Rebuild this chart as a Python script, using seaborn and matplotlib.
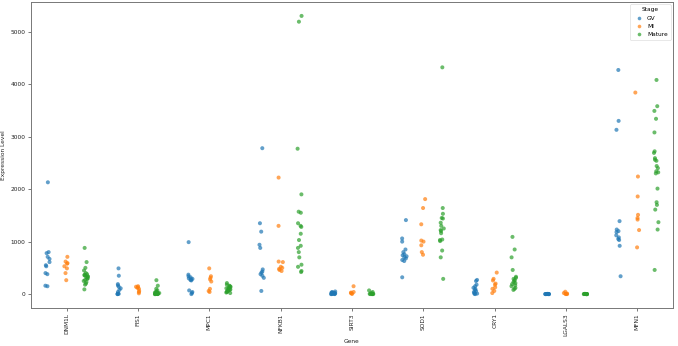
import numpy as np
import pandas as pd
import matplotlib
matplotlib.use("Agg")
import matplotlib.pyplot as plt
import seaborn as sns

genes = ["DNM1L", "FIS1", "MPC1", "NFKB1", "SIRT3", "SOD1", "CRY1", "LGALS3", "MFN1"]
stages = ["GV", "MI", "Mature"]

gv = {
    "DNM1L": [2130, 800, 780, 710, 670, 610, 550, 530, 400, 380, 160, 150],
    "FIS1": [490, 350, 190, 165, 140, 110, 80, 40, 10, 5, 0, 0],
    "MPC1": [990, 370, 340, 320, 300, 290, 280, 270, 260, 70, 40, 20, 0],
    "NFKB1": [2780, 1350, 1190, 940, 880, 470, 430, 410, 380, 350, 310, 60],
    "SIRT3": [50, 40, 30, 25, 20, 15, 10, 10, 5, 5, 0, 0, 0],
    "SOD1": [1410, 1060, 1000, 850, 800, 760, 740, 720, 700, 680, 650, 630, 320],
    "CRY1": [270, 250, 180, 150, 120, 100, 80, 60, 40, 20, 10, 5, 0],
    "LGALS3": [5, 3, 2, 1, 0, 0, 0, 0, 0, 0],
    "MFN1": [4270, 3300, 3130, 1390, 1230, 1200, 1180, 1120, 1080, 1050, 1030, 920, 340],
}
mi = {
    "DNM1L": [710, 620, 590, 580, 530, 490, 400, 265],
    "FIS1": [150, 140, 130, 120, 100, 60, 40, 15],
    "MPC1": [490, 340, 310, 280, 240, 100, 60, 40],
    "NFKB1": [2220, 1300, 620, 610, 520, 500, 480, 460, 440],
    "SIRT3": [150, 40, 30, 20, 10, 5],
    "SOD1": [1810, 1640, 1330, 1020, 1000, 930, 800, 750],
    "CRY1": [410, 290, 260, 200, 180, 130, 100, 60, 20],
    "LGALS3": [45, 20, 10, 5, 0, 0],
    "MFN1": [3840, 2240, 1860, 1510, 1450, 1420, 1220, 890],
}
mature = {
    "DNM1L": [880, 610, 500, 450, 400, 380, 370, 360, 350, 340, 330, 320, 300, 290,
              270, 250, 230, 200, 180, 90],
    "FIS1": [265, 160, 100, 70, 50, 40, 30, 25, 20, 15, 10, 8, 5, 3, 0, 0, 0, 0],
    "MPC1": [210, 180, 160, 150, 140, 130, 120, 110, 100, 90, 80, 70, 60, 50, 40, 30, 20],
    "NFKB1": [5300, 5190, 2770, 1900, 1570, 1550, 1350, 1300, 1280, 1150, 1030, 920,
              880, 800, 700, 560, 520, 440, 420],
    "SIRT3": [70, 40, 20, 10, 5, 5, 0, 0, 0, 0],
    "SOD1": [4320, 1640, 1530, 1450, 1440, 1360, 1300, 1250, 1220, 1200, 1160, 1040,
             1030, 1010, 830, 700, 290],
    "CRY1": [1090, 850, 700, 460, 330, 310, 290, 270, 250, 230, 210, 190, 170, 150,
             120, 100, 80],
    "LGALS3": [5, 3, 2, 0, 0, 0, 0, 0, 0, 0],
    "MFN1": [4080, 3580, 3490, 3340, 3080, 2720, 2690, 2590, 2560, 2540, 2440, 2400,
             2340, 2320, 2300, 2010, 1750, 1700, 1610, 1370, 1230, 460],
}

rows = []
for stage, d in zip(stages, [gv, mi, mature]):
    for g in genes:
        for v in d[g]:
            rows.append((g, stage, v))
df = pd.DataFrame(rows, columns=["Gene", "Stage", "Expression Level"])

np.random.seed(3)
fs = 4.2
plt.rcParams["font.family"] = ["DejaVu Sans"]
fig = plt.figure(figsize=(6.78, 3.46), dpi=100)
ax = fig.add_axes([0.0457, 0.1098, 0.9469, 0.8844])
sns.stripplot(data=df, x="Gene", y="Expression Level", hue="Stage", order=genes,
              hue_order=stages, dodge=True, jitter=True, size=2.9, alpha=0.7,
              linewidth=0, ax=ax)

ax.tick_params(axis="both", labelsize=fs, length=2.4, width=0.5, pad=1.5,
               color="#444", labelcolor="#222")
ax.tick_params(axis="x", labelrotation=90)
ax.set_xlabel("Gene", fontsize=fs, labelpad=2, color="#222")
ax.set_ylabel("Expression Level", fontsize=fs, labelpad=3, color="#222")
ax.set_yticks([0, 1000, 2000, 3000, 4000, 5000])
for s in ax.spines.values():
    s.set_linewidth(0.7)
    s.set_color("#777")

leg = ax.legend(title="Stage", loc="upper right", fontsize=fs, title_fontsize=fs,
                markerscale=0.9, frameon=True, borderpad=0.5, labelspacing=0.55,
                handletextpad=0.4, borderaxespad=0.4)
leg.get_frame().set_linewidth(0.4)

fig.savefig("out.png", dpi=100)
